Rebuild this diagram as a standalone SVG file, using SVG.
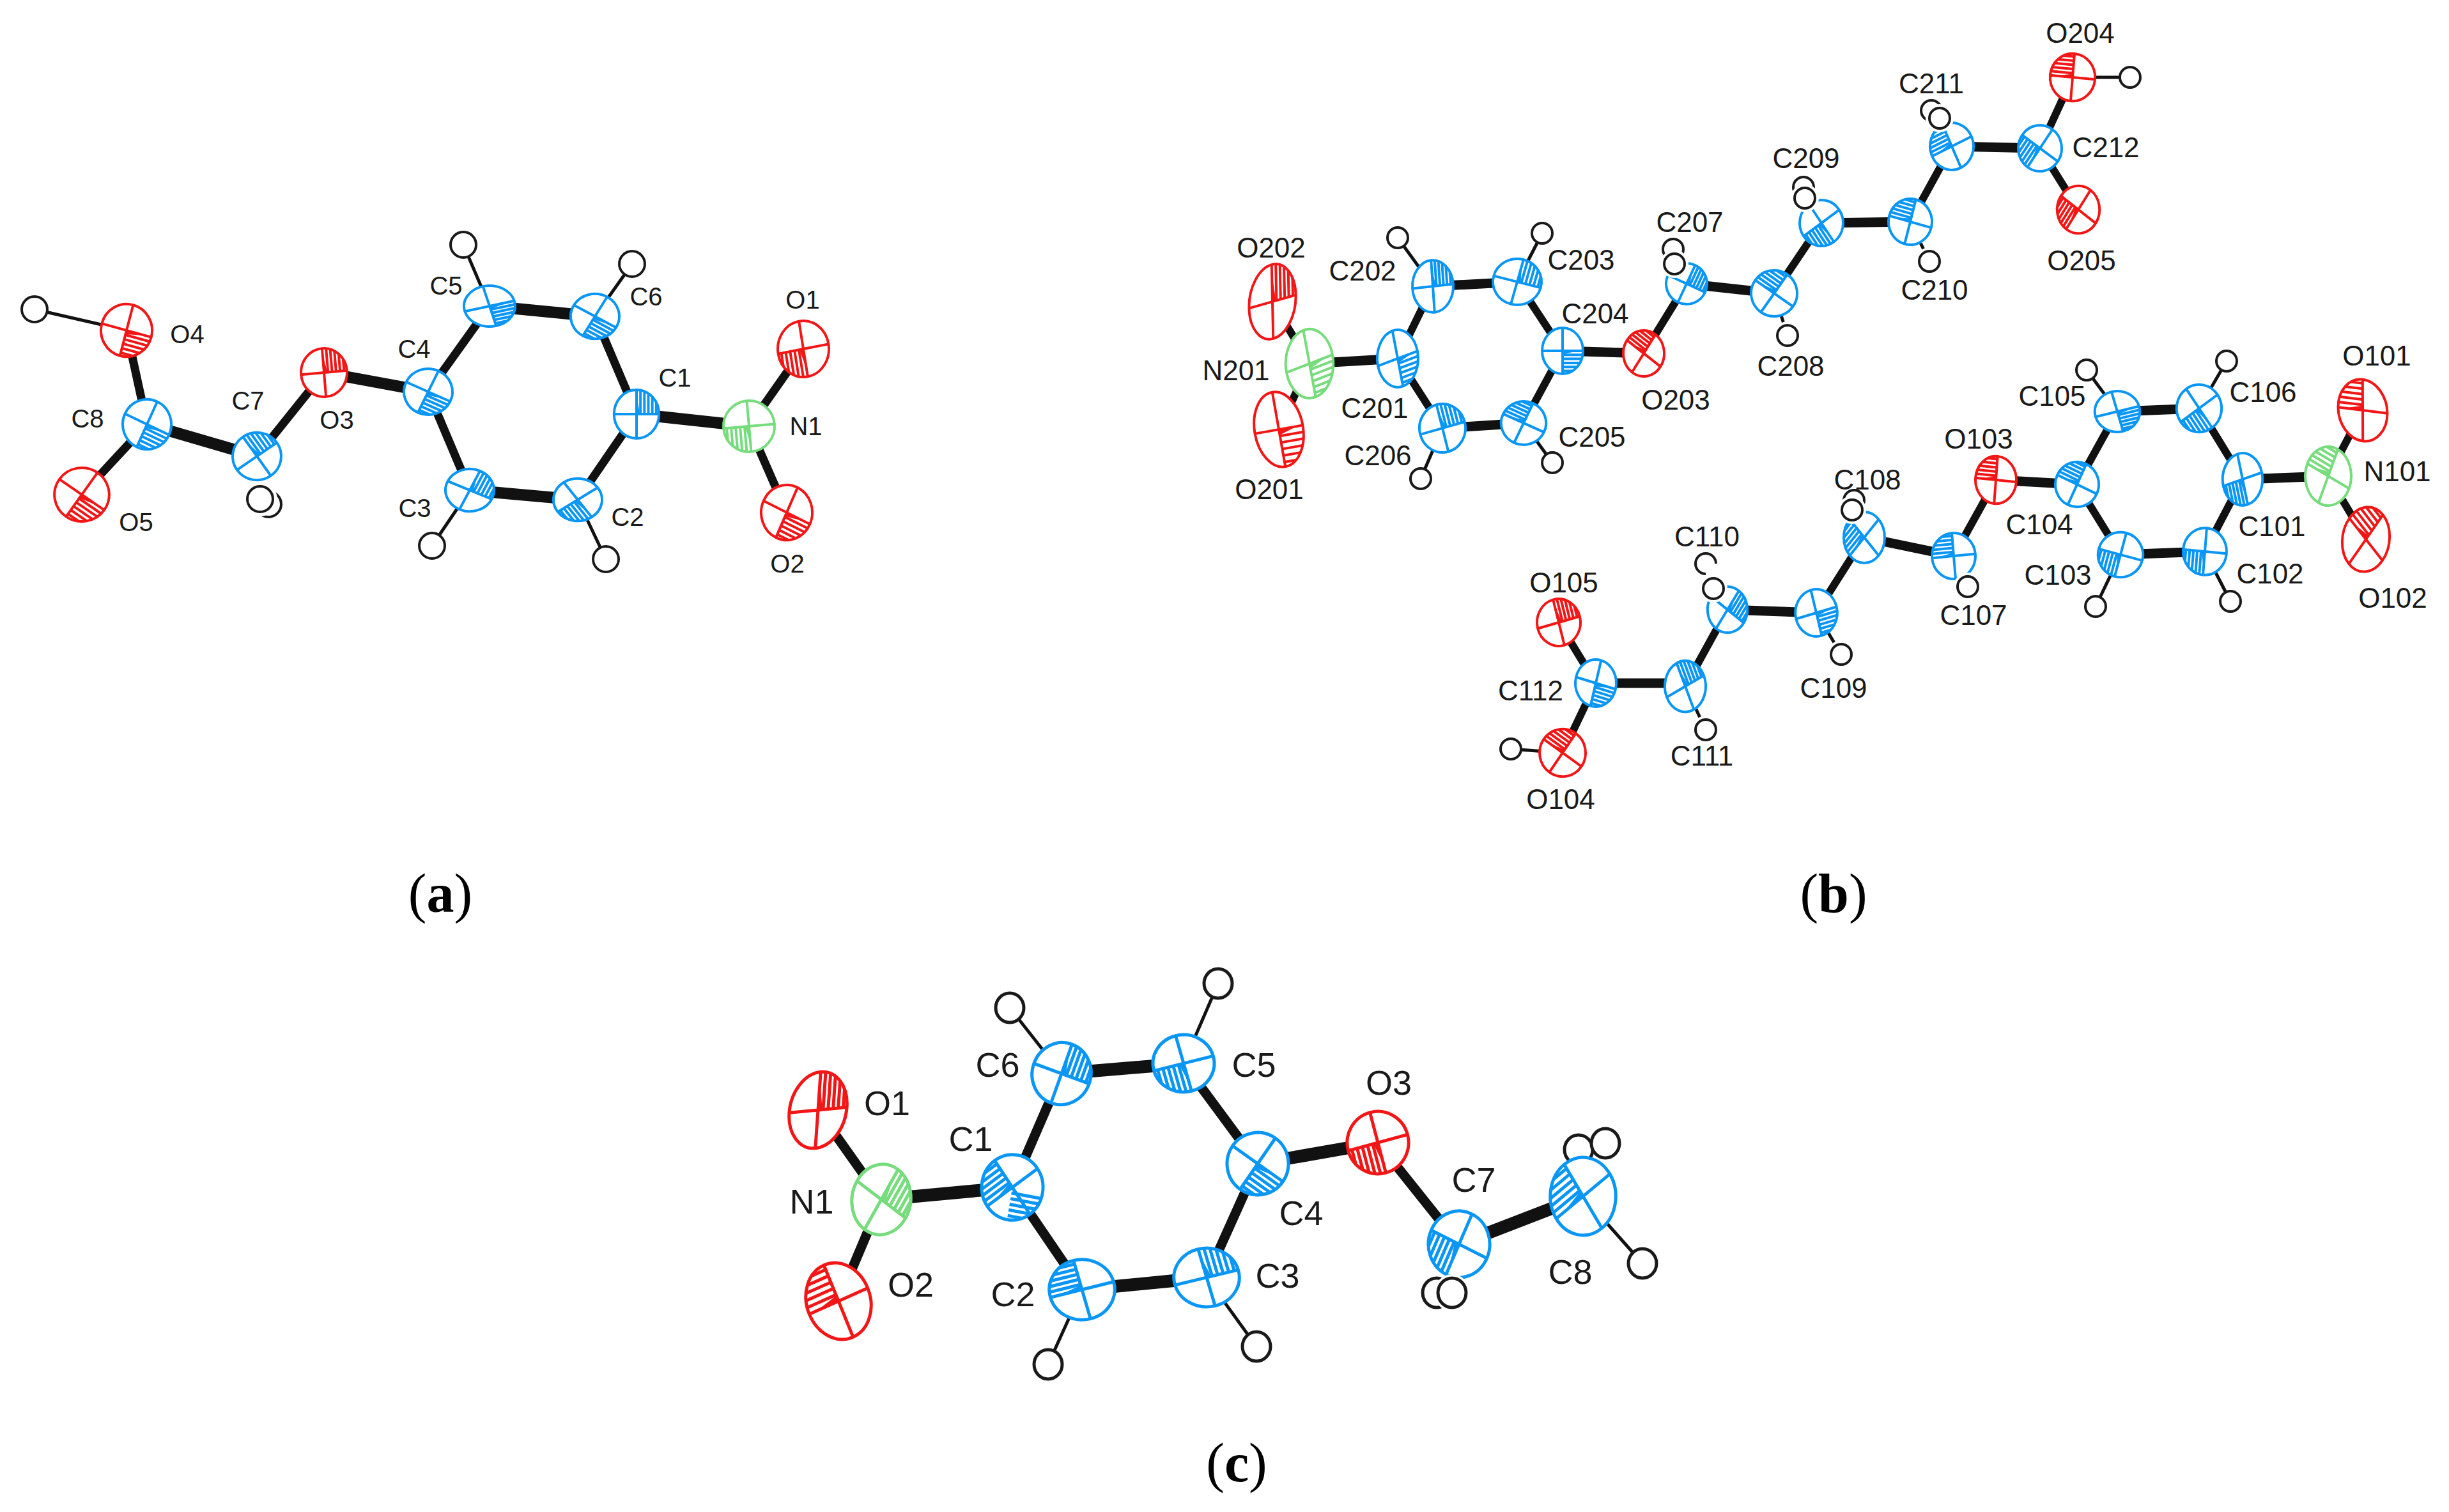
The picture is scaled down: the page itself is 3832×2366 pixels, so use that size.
<svg xmlns="http://www.w3.org/2000/svg" width="3832" height="2366" viewBox="0 0 3832 2366">
<style>
text{font-family:"Liberation Sans",Arial,sans-serif;fill:#1a1a1a;text-anchor:middle}
.cap{font-family:"Liberation Serif","Times New Roman",serif;font-size:86px;fill:#000}
.cap tspan{font-weight:bold}
.pa text{font-size:40px}.pb text{font-size:44px}.pc text{font-size:54px}
.pa,.pb{stroke-width:4}.pc{stroke-width:5}
.c{color:#0a96f5}.o{color:#f21616}.n{color:#76dc7c}
.H{fill:#fff;stroke:#1a1a1a}
.halo{fill:#fff}
.bonds line{stroke:#111}
.n13{stroke-width:13}.n18{stroke-width:18}.n12{stroke-width:12}.n15{stroke-width:15}.n20{stroke-width:20}.h{stroke-width:5}
</style>
<defs>
<path id="hatch" d="M0 7H39.4M0 14H37.5M0 21H34M0 28H28.6M0 35H19.4" fill="none" stroke="currentColor" vector-effect="non-scaling-stroke"/>
<g id="at">
<circle r="40" fill="#fff" stroke="currentColor" vector-effect="non-scaling-stroke"/>
<path d="M-40 0H40M0-40V40" fill="none" stroke="currentColor" vector-effect="non-scaling-stroke"/>
<use href="#hatch"/>
<path d="M0 0L30 0L0 6Z" fill="currentColor"/>
</g>
</defs>
<rect width="3832" height="2366" fill="#fff"/>
<g id="connectors" class="bonds">
<g id="bonds-a">
<line class="n13" x1="198" y1="517" x2="230" y2="664"/><line class="n18" x1="230" y1="664" x2="402" y2="714"/><line class="n13" x1="402" y1="714" x2="507" y2="583"/><line class="n18" x1="507" y1="583" x2="670" y2="613"/><line class="n13" x1="670" y1="613" x2="766" y2="479"/><line class="n18" x1="766" y1="479" x2="931" y2="495"/><line class="n13" x1="931" y1="495" x2="996" y2="648"/><line class="n18" x1="996" y1="648" x2="1172" y2="667"/><line class="n13" x1="1172" y1="667" x2="1257" y2="546"/><line class="n13" x1="1172" y1="667" x2="1231" y2="802"/><line class="n13" x1="996" y1="648" x2="904" y2="782"/><line class="n18" x1="904" y1="782" x2="735" y2="767"/><line class="n13" x1="735" y1="767" x2="670" y2="613"/><line class="n13" x1="230" y1="664" x2="128" y2="774"/>
<line class="h" x1="198" y1="517" x2="54" y2="484"/><line class="h" x1="766" y1="479" x2="725" y2="383"/><line class="h" x1="931" y1="495" x2="989" y2="413"/><line class="h" x1="904" y1="782" x2="948" y2="875"/><line class="h" x1="735" y1="767" x2="676" y2="854"/>
</g>
<g id="bonds-b2">
<line class="n12" x1="3243" y1="121" x2="3192" y2="232"/><line class="n12" x1="3192" y1="232" x2="3252" y2="328"/><line class="n15" x1="3192" y1="232" x2="3054" y2="229"/><line class="n12" x1="3054" y1="229" x2="2989" y2="347"/><line class="n15" x1="2989" y1="347" x2="2850" y2="349"/><line class="n12" x1="2850" y1="349" x2="2776" y2="459"/><line class="n15" x1="2776" y1="459" x2="2639" y2="444"/><line class="n12" x1="2639" y1="444" x2="2572" y2="553"/><line class="n15" x1="2572" y1="553" x2="2445" y2="549"/><line class="n12" x1="2445" y1="549" x2="2374" y2="441"/><line class="n15" x1="2374" y1="441" x2="2242" y2="448"/><line class="n12" x1="2242" y1="448" x2="2187" y2="561"/><line class="n15" x1="2187" y1="561" x2="2049" y2="569"/><line class="n12" x1="2049" y1="569" x2="1991" y2="472"/><line class="n12" x1="2049" y1="569" x2="2001" y2="672"/><line class="n12" x1="2187" y1="561" x2="2257" y2="670"/><line class="n15" x1="2257" y1="670" x2="2384" y2="662"/><line class="n12" x1="2384" y1="662" x2="2445" y2="549"/>
<line class="h" x1="3243" y1="121" x2="3333" y2="121"/><line class="h" x1="2989" y1="347" x2="3019" y2="409"/><line class="h" x1="2776" y1="459" x2="2797" y2="525"/><line class="h" x1="2374" y1="441" x2="2413" y2="365"/><line class="h" x1="2242" y1="448" x2="2187" y2="372"/><line class="h" x1="2257" y1="670" x2="2223" y2="749"/><line class="h" x1="2384" y1="662" x2="2429" y2="724"/>
</g>
<g id="bonds-b1">
<line class="n12" x1="3643" y1="745" x2="3697" y2="642"/><line class="n12" x1="3643" y1="745" x2="3702" y2="844"/><line class="n15" x1="3643" y1="745" x2="3509" y2="750"/><line class="n12" x1="3509" y1="750" x2="3441" y2="639"/><line class="n15" x1="3441" y1="639" x2="3313" y2="644"/><line class="n12" x1="3313" y1="644" x2="3250" y2="758"/><line class="n15" x1="3250" y1="758" x2="3123" y2="751"/><line class="n12" x1="3250" y1="758" x2="3318" y2="868"/><line class="n15" x1="3318" y1="868" x2="3450" y2="863"/><line class="n12" x1="3450" y1="863" x2="3509" y2="750"/><line class="n12" x1="3123" y1="751" x2="3057" y2="870"/><line class="n15" x1="3057" y1="870" x2="2917" y2="841"/><line class="n12" x1="2917" y1="841" x2="2842" y2="959"/><line class="n15" x1="2842" y1="959" x2="2703" y2="954"/><line class="n12" x1="2703" y1="954" x2="2637" y2="1074"/><line class="n15" x1="2637" y1="1069" x2="2497" y2="1069"/><line class="n12" x1="2497" y1="1069" x2="2439" y2="974"/><line class="n12" x1="2497" y1="1069" x2="2445" y2="1178"/>
<line class="h" x1="3441" y1="639" x2="3484" y2="565"/><line class="h" x1="3313" y1="644" x2="3265" y2="579"/><line class="h" x1="3318" y1="868" x2="3279" y2="949"/><line class="h" x1="3450" y1="863" x2="3490" y2="941"/><line class="h" x1="2842" y1="959" x2="2881" y2="1024"/><line class="h" x1="2637" y1="1074" x2="2669" y2="1142"/><line class="h" x1="2445" y1="1178" x2="2364" y2="1172"/>
</g>
<g id="bonds-c">
<line class="n15" x1="1280" y1="1737" x2="1379" y2="1877"/><line class="n15" x1="1379" y1="1877" x2="1312" y2="2036"/><line class="n20" x1="1379" y1="1877" x2="1584" y2="1858"/><line class="n15" x1="1584" y1="1858" x2="1661" y2="1680"/><line class="n20" x1="1661" y1="1680" x2="1852" y2="1664"/><line class="n15" x1="1852" y1="1664" x2="1968" y2="1821"/><line class="n20" x1="1968" y1="1821" x2="2156" y2="1788"/><line class="n15" x1="2156" y1="1788" x2="2283" y2="1947"/><line class="n20" x1="2283" y1="1947" x2="2477" y2="1872"/><line class="n15" x1="1968" y1="1821" x2="1888" y2="1999"/><line class="n20" x1="1888" y1="1999" x2="1693" y2="2018"/><line class="n15" x1="1693" y1="2018" x2="1584" y2="1858"/>
<line class="h" x1="1661" y1="1680" x2="1580" y2="1577"/><line class="h" x1="1852" y1="1664" x2="1906" y2="1539"/><line class="h" x1="1888" y1="1999" x2="1966" y2="2107"/><line class="h" x1="1693" y1="2018" x2="1640" y2="2135"/><line class="h" x1="2477" y1="1872" x2="2570" y2="1977"/>
</g>
</g>

<g id="panel-a" class="pa">
<g id="a-H4"><circle class="H" cx="54" cy="484" r="20"/></g>
<g id="a-O4" class="o"><use href="#at" transform="translate(198 517) scale(1 1.03) rotate(15)"/><text x="293" y="537">O4</text></g>
<g id="a-C8" class="c"><use href="#at" transform="translate(230 664) scale(.95 .98) rotate(25)"/><text x="137" y="669">C8</text></g>
<g id="a-O5" class="o"><use href="#at" transform="translate(128 774) scale(1.07 1.05) rotate(35)"/><text x="213" y="831">O5</text></g>
<g id="a-C7" class="c"><use href="#at" transform="translate(402 714) scale(.95 .93) rotate(-125)"/><text x="388" y="641">C7</text></g>
<g id="a-H7b"><circle class="H" cx="420" cy="789" r="20"/></g>
<g id="a-H7a"><circle class="halo" cx="407" cy="781" r="27"/><circle class="H" cx="407" cy="781" r="20"/></g>
<g id="a-O3" class="o"><use href="#at" transform="translate(507 583) scale(.9 .95) rotate(-95)"/><text x="527" y="671">O3</text></g>
<g id="a-C4" class="c"><use href="#at" transform="translate(670 613) scale(.95 .9) rotate(25)"/><text x="648" y="560">C4</text></g>
<g id="a-C5" class="c"><use href="#at" transform="translate(766 479) scale(1 .8) rotate(-15)"/><text x="698" y="461">C5</text></g>
<g id="a-H5"><circle class="H" cx="725" cy="383" r="20"/></g>
<g id="a-C6" class="c"><use href="#at" transform="translate(931 495) scale(.95 .88) rotate(30)"/><text x="1011" y="478">C6</text></g>
<g id="a-H6"><circle class="H" cx="989" cy="413" r="20"/></g>
<g id="a-C1" class="c"><use href="#at" transform="translate(996 648) scale(.88 .95) rotate(-90)"/><text x="1056" y="605">C1</text></g>
<g id="a-N1" class="n"><use href="#at" transform="translate(1172 667) rotate(85)"/><text x="1261" y="681">N1</text></g>
<g id="a-O1" class="o"><use href="#at" transform="translate(1257 546) scale(1 1.1) rotate(80)"/><text x="1256" y="483">O1</text></g>
<g id="a-O2" class="o"><use href="#at" transform="translate(1231 802) scale(1 1.08) rotate(25)"/><text x="1232" y="896">O2</text></g>
<g id="a-C2" class="c"><use href="#at" transform="translate(904 782) scale(.95 .83) rotate(55)"/><text x="982" y="823">C2</text></g>
<g id="a-H2"><circle class="H" cx="948" cy="875" r="20"/></g>
<g id="a-C3" class="c"><use href="#at" transform="translate(735 767) scale(.95 .83) rotate(-65)"/><text x="649" y="809">C3</text></g>
<g id="a-H3"><circle class="H" cx="676" cy="854" r="20"/></g>
</g>

<g id="panel-b" class="pb">
<g id="b-O204" class="o"><use href="#at" transform="translate(3243 121) scale(.88 .93) rotate(-175)"/><text x="3255" y="67">O204</text></g>
<g id="b-H204"><circle class="H" cx="3333" cy="121" r="16"/></g>
<g id="b-C212" class="c"><use href="#at" transform="translate(3192 232) scale(.85 .9) rotate(125)"/><text x="3295" y="246">C212</text></g>
<g id="b-O205" class="o"><use href="#at" transform="translate(3252 328) scale(.83 .93) rotate(125)"/><text x="3257" y="423">O205</text></g>
<g id="b-C211" class="c"><use href="#at" transform="translate(3054 229) scale(.85 .92) rotate(155)"/><text x="3022" y="146">C211</text></g>
<g id="b-H211b"><circle class="H" cx="3022" cy="173" r="16"/></g>
<g id="b-H211a"><circle class="halo" cx="3035" cy="185" r="22"/><circle class="H" cx="3035" cy="185" r="16"/></g>
<g id="b-C210" class="c"><use href="#at" transform="translate(2989 347) scale(.85 .9) rotate(-165)"/><text x="3027" y="469">C210</text></g>
<g id="b-H210"><circle class="halo" cx="3019" cy="409" r="22"/><circle class="H" cx="3019" cy="409" r="16"/></g>
<g id="b-C209" class="c"><use href="#at" transform="translate(2850 349) scale(.85 .9) rotate(55)"/><text x="2826" y="263">C209</text></g>
<g id="b-H209b"><circle class="H" cx="2822" cy="293" r="16"/></g>
<g id="b-H209a"><circle class="halo" cx="2824" cy="310" r="22"/><circle class="H" cx="2824" cy="310" r="16"/></g>
<g id="b-C208" class="c"><use href="#at" transform="translate(2776 459) scale(.9 .9) rotate(-145)"/><text x="2802" y="588">C208</text></g>
<g id="b-H208"><circle class="halo" cx="2797" cy="525" r="22"/><circle class="H" cx="2797" cy="525" r="16"/></g>
<g id="b-C207" class="c"><use href="#at" transform="translate(2639 444) scale(.8 .8) rotate(-65)"/><text x="2644" y="363">C207</text></g>
<g id="b-H207b"><circle class="H" cx="2618" cy="390" r="16"/></g>
<g id="b-H207a"><circle class="halo" cx="2620" cy="413" r="22"/><circle class="H" cx="2620" cy="413" r="16"/></g>
<g id="b-O203" class="o"><use href="#at" transform="translate(2572 553) scale(.8 .9) rotate(-145)"/><text x="2622" y="641">O203</text></g>
<g id="b-C204" class="c"><use href="#at" transform="translate(2445 549) scale(.8 .9)"/><text x="2496" y="506">C204</text></g>
<g id="b-C203" class="c"><use href="#at" transform="translate(2374 441) scale(.95 .9) rotate(-75)"/><text x="2474" y="422">C203</text></g>
<g id="b-H203"><circle class="H" cx="2413" cy="365" r="16"/></g>
<g id="b-C202" class="c"><use href="#at" transform="translate(2242 448) scale(.8 1.02) rotate(-95)"/><text x="2132" y="439">C202</text></g>
<g id="b-H202"><circle class="H" cx="2187" cy="372" r="16"/></g>
<g id="b-C201" class="c"><use href="#at" transform="translate(2187 561) scale(.8 1.12) rotate(-15)"/><text x="2151" y="654">C201</text></g>
<g id="b-N201" class="n"><use href="#at" transform="translate(2049 569) scale(.93 1.35) rotate(-15)"/><text x="1934" y="595">N201</text></g>
<g id="b-O202" class="o"><use href="#at" transform="translate(1991 472) rotate(8) scale(.9 1.48) rotate(-105)"/><text x="1989" y="403">O202</text></g>
<g id="b-O201" class="o"><use href="#at" transform="translate(2001 672) rotate(-10) scale(.95 1.48)"/><text x="1986" y="781">O201</text></g>
<g id="b-C206" class="c"><use href="#at" transform="translate(2257 670) scale(.9 .95) rotate(-105)"/><text x="2156" y="728">C206</text></g>
<g id="b-H206"><circle class="H" cx="2223" cy="749" r="16"/></g>
<g id="b-C205" class="c"><use href="#at" transform="translate(2384 662) scale(.88 .85) rotate(-155)"/><text x="2491" y="699">C205</text></g>
<g id="b-H205"><circle class="H" cx="2429" cy="724" r="16"/></g>

<g id="b-O101" class="o"><use href="#at" transform="translate(3697 642) rotate(-12) scale(.95 1.22) rotate(-165)"/><text x="3719" y="572">O101</text></g>
<g id="b-N101" class="n"><use href="#at" transform="translate(3643 745) scale(.9 1.15) rotate(-155)"/><text x="3751" y="753">N101</text></g>
<g id="b-O102" class="o"><use href="#at" transform="translate(3702 844) rotate(8) scale(.92 1.27) rotate(-145)"/><text x="3744" y="951">O102</text></g>
<g id="b-C101" class="c"><use href="#at" transform="translate(3509 750) scale(.78 1.02) rotate(75)"/><text x="3555" y="839">C101</text></g>
<g id="b-C106" class="c"><use href="#at" transform="translate(3441 639) scale(.88 .93) rotate(55)"/><text x="3541" y="629">C106</text></g>
<g id="b-H106"><circle class="H" cx="3484" cy="565" r="16"/></g>
<g id="b-C105" class="c"><use href="#at" transform="translate(3313 644) scale(.88 .8) rotate(-15)"/><text x="3211" y="635">C105</text></g>
<g id="b-H105"><circle class="H" cx="3265" cy="579" r="16"/></g>
<g id="b-C104" class="c"><use href="#at" transform="translate(3250 758) scale(.85 .88) rotate(-155)"/><text x="3191" y="836">C104</text></g>
<g id="b-O103" class="o"><use href="#at" transform="translate(3123 751) scale(.8 .93) rotate(-175)"/><text x="3096" y="702">O103</text></g>
<g id="b-C103" class="c"><use href="#at" transform="translate(3318 868) scale(.88 .88) rotate(105)"/><text x="3220" y="915">C103</text></g>
<g id="b-H103"><circle class="H" cx="3279" cy="949" r="16"/></g>
<g id="b-C102" class="c"><use href="#at" transform="translate(3450 863) scale(.85 .92) rotate(95)"/><text x="3552" y="913">C102</text></g>
<g id="b-H102"><circle class="H" cx="3490" cy="941" r="16"/></g>
<g id="b-C107" class="c"><use href="#at" transform="translate(3057 870) scale(.85 .9) rotate(175)"/><text x="3088" y="978">C107</text></g>
<g id="b-H107"><circle class="halo" cx="3079" cy="918" r="22"/><circle class="H" cx="3079" cy="918" r="16"/></g>
<g id="b-C108" class="c"><use href="#at" transform="translate(2917 841) scale(.8 1) rotate(135)"/><text x="2922" y="766">C108</text></g>
<g id="b-H108b"><circle class="H" cx="2901" cy="783" r="16"/></g>
<g id="b-H108a"><circle class="halo" cx="2898" cy="798" r="22"/><circle class="H" cx="2898" cy="798" r="16"/></g>
<g id="b-C109" class="c"><use href="#at" transform="translate(2842 959) scale(.82 .92) rotate(-15)"/><text x="2869" y="1092">C109</text></g>
<g id="b-H109"><circle class="halo" cx="2881" cy="1024" r="22"/><circle class="H" cx="2881" cy="1024" r="16"/></g>
<g id="b-C110" class="c"><use href="#at" transform="translate(2703 954) scale(.78 .9) rotate(-55)"/><text x="2671" y="855">C110</text></g>
<g id="b-H110b"><circle class="H" cx="2669" cy="882" r="16" pathLength="100" stroke-dasharray="0 25 75 0"/></g>
<g id="b-H110a"><circle class="halo" cx="2681" cy="921" r="22"/><circle class="H" cx="2681" cy="921" r="16"/></g>
<g id="b-C111" class="c"><use href="#at" transform="translate(2637 1074) scale(.8 1) rotate(-115)"/><text x="2663" y="1198">C111</text></g>
<g id="b-H111"><circle class="halo" cx="2669" cy="1142" r="22"/><circle class="H" cx="2669" cy="1142" r="16"/></g>
<g id="b-C112" class="c"><use href="#at" transform="translate(2497 1069) scale(.8 .92) rotate(15)"/><text x="2395" y="1096">C112</text></g>
<g id="b-O105" class="o"><use href="#at" transform="translate(2439 974) scale(.85 .92) rotate(-105)"/><text x="2447" y="927">O105</text></g>
<g id="b-O104" class="o"><use href="#at" transform="translate(2445 1178) scale(.9 .93) rotate(-145)"/><text x="2442" y="1266">O104</text></g>
<g id="b-H104"><circle class="H" cx="2364" cy="1172" r="16"/></g>
</g>

<g id="panel-c" class="pc">
<g id="c-O1" class="o"><use href="#at" transform="translate(1280 1737) rotate(15) scale(1.1 1.52) rotate(-105)"/><text x="1388" y="1745">O1</text></g>
<g id="c-N1" class="n"><use href="#at" transform="translate(1379 1877) rotate(8) scale(1.15 1.38) rotate(-65)"/><text x="1270" y="1899">N1</text></g>
<g id="c-O2" class="o"><use href="#at" transform="translate(1312 2036) rotate(-18) scale(1.25 1.52) rotate(175)"/><text x="1425" y="2029">O2</text></g>
<g id="c-C1" class="c"><use href="#at" transform="translate(1584 1858) scale(1.2 1.28) rotate(145)"/><use href="#hatch" transform="translate(1584 1858) scale(1.2 1.28) rotate(10)"/><text x="1519" y="1801">C1</text></g>
<g id="c-C6" class="c"><use href="#at" transform="translate(1661 1680) rotate(15) scale(1.15 1.22) rotate(-85)"/><text x="1561" y="1685">C6</text></g>
<g id="c-H6"><ellipse class="H" cx="1580" cy="1577" rx="22" ry="23"/></g>
<g id="c-C5" class="c"><use href="#at" transform="translate(1852 1664) scale(1.2 1.12) rotate(75)"/><text x="1962" y="1685">C5</text></g>
<g id="c-H5"><ellipse class="H" cx="1906" cy="1539" rx="22" ry="23"/></g>
<g id="c-C4" class="c"><use href="#at" transform="translate(1968 1821) scale(1.2 1.22) rotate(35)"/><text x="2036" y="1917">C4</text></g>
<g id="c-O3" class="o"><use href="#at" transform="translate(2156 1788) scale(1.2 1.22) rotate(75)"/><text x="2173" y="1713">O3</text></g>
<g id="c-C7" class="c"><use href="#at" transform="translate(2283 1947) scale(1.2 1.3) rotate(115)"/><text x="2306" y="1865">C7</text></g>
<g id="c-H7b"><ellipse class="H" cx="2248" cy="2023" rx="22" ry="23"/></g>
<g id="c-H7a"><ellipse class="halo" cx="2272" cy="2023" rx="28" ry="29"/><ellipse class="H" cx="2272" cy="2023" rx="22" ry="23"/></g>
<g id="c-H8b"><ellipse class="H" cx="2470" cy="1799" rx="22" ry="23"/></g>
<g id="c-C8" class="c"><use href="#at" transform="translate(2477 1872) scale(1.28 1.52) rotate(145)"/><text x="2457" y="2009">C8</text></g>
<g id="c-H8a"><ellipse class="H" cx="2512" cy="1789" rx="22" ry="23"/></g>
<g id="c-H8c"><ellipse class="H" cx="2570" cy="1977" rx="22" ry="23"/></g>
<g id="c-C3" class="c"><use href="#at" transform="translate(1888 1999) scale(1.28 1.15) rotate(-105)"/><text x="1999" y="2015">C3</text></g>
<g id="c-H3"><ellipse class="H" cx="1966" cy="2107" rx="22" ry="23"/></g>
<g id="c-C2" class="c"><use href="#at" transform="translate(1693 2018) scale(1.28 1.18) rotate(165)"/><text x="1585" y="2044">C2</text></g>
<g id="c-H2"><ellipse class="H" cx="1640" cy="2135" rx="22" ry="23"/></g>
</g>

<text class="cap" x="689" y="1427">(<tspan>a</tspan>)</text>
<text class="cap" x="2869" y="1427">(<tspan>b</tspan>)</text>
<text class="cap" x="1935" y="2318">(<tspan>c</tspan>)</text>
</svg>
